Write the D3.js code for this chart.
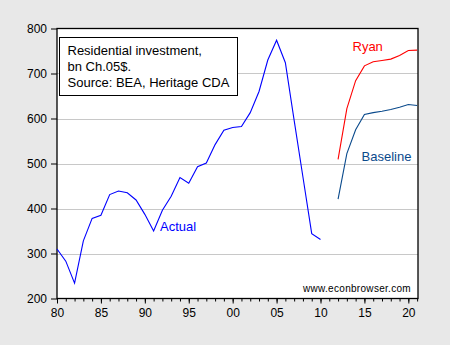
<!DOCTYPE html>
<html>
<head>
<meta charset="utf-8">
<script src="https://cdn.jsdelivr.net/npm/d3@7"></script>
<style>
  html, body { margin: 0; padding: 0; background: #e8e8e8; }
  svg { display: block; font-family: "Liberation Sans", Arial, sans-serif; }
</style>
</head>
<body>
<svg id="chart" width="450" height="345"></svg>
<script>
// Residential investment, billions of chained 2005 dollars
const actualYears = [1980, 1981, 1982, 1983, 1984, 1985, 1986, 1987, 1988, 1989,
                     1990, 1991, 1992, 1993, 1994, 1995, 1996, 1997, 1998, 1999,
                     2000, 2001, 2002, 2003, 2004, 2005, 2006, 2007, 2008, 2009, 2010];
const actualValues = [310, 283, 234, 328, 378, 385, 431, 439, 435, 419,
                      387, 350, 396, 427, 469, 456, 493, 501, 542, 574,
                      580, 582, 613, 660, 730, 774, 724, 596, 470, 344, 331];

const projYears = [2012, 2013, 2014, 2015, 2016, 2017, 2018, 2019, 2020, 2021];
const ryanValues = [509, 622, 684, 717, 726, 729, 732, 740, 751, 752];
const baselineValues = [421, 522, 575, 609, 613, 616, 620, 625, 631, 629];

const yTicks = [200, 300, 400, 500, 600, 700, 800];
const xMajorTicks = [1980, 1985, 1990, 1995, 2000, 2005, 2010, 2015, 2020];
const xTickLabels = ["80", "85", "90", "95", "00", "05", "10", "15", "20"];
const xMinorTicks = d3.range(1980, 2022);

const noteLines = ["Residential investment,", "bn Ch.05$.", "Source: BEA, Heritage CDA"];

const svg = d3.select("#chart");
const plotLeft = 57, plotRight = 418, plotTop = 28.5, plotBottom = 298.5;

const x = d3.scaleLinear().domain([1980, 2021.1]).range([plotLeft, plotRight]);
const y = d3.scaleLinear().domain([200, 800]).range([plotBottom, plotTop]);

// plot background
svg.append("rect")
  .attr("x", plotLeft).attr("y", plotTop)
  .attr("width", plotRight - plotLeft).attr("height", plotBottom - plotTop)
  .attr("fill", "#ffffff");

// horizontal grid lines
svg.append("g")
  .selectAll("line")
  .data(yTicks.filter(v => v > 200 && v < 800))
  .join("line")
  .attr("x1", plotLeft).attr("x2", plotRight)
  .attr("y1", d => Math.round(y(d)) + 0.5).attr("y2", d => Math.round(y(d)) + 0.5)
  .attr("stroke", "#c8c8c8").attr("stroke-width", 1);

// y axis
const yAxis = d3.axisLeft(y).tickValues(yTicks).tickSize(6).tickPadding(4);
const gy = svg.append("g").attr("transform", `translate(${plotLeft},0)`).call(yAxis);
gy.select(".domain").remove();
gy.selectAll(".tick line").attr("stroke", "#000");
gy.selectAll(".tick text").attr("font-size", 12).attr("fill", "#000")
  .attr("font-family", "Liberation Sans, Arial, sans-serif");

// x axis: minor yearly ticks, major ticks every five years
const xMinor = d3.axisBottom(x).tickValues(xMinorTicks).tickSize(3).tickFormat("");
const gxm = svg.append("g").attr("transform", `translate(0,${plotBottom})`).call(xMinor);
gxm.select(".domain").remove();
gxm.selectAll(".tick line").attr("stroke", "#000");

const xMajor = d3.axisBottom(x).tickValues(xMajorTicks).tickSize(5).tickPadding(5)
  .tickFormat((d, i) => xTickLabels[i]);
const gx = svg.append("g").attr("transform", `translate(0,${plotBottom})`).call(xMajor);
gx.select(".domain").remove();
gx.selectAll(".tick line").attr("stroke", "#000");
gx.selectAll(".tick text").attr("font-size", 12).attr("fill", "#000")
  .attr("font-family", "Liberation Sans, Arial, sans-serif");

// frame
svg.append("rect")
  .attr("x", plotLeft).attr("y", plotTop)
  .attr("width", plotRight - plotLeft).attr("height", plotBottom - plotTop)
  .attr("fill", "none").attr("stroke", "#000").attr("stroke-width", 1.3);

// series lines
const line = d3.line().x(d => x(d[0])).y(d => y(d[1]));
const series = [
  { years: actualYears, values: actualValues, color: "#0000ff" },
  { years: projYears, values: ryanValues, color: "#ff0000" },
  { years: projYears, values: baselineValues, color: "#0a4a8c" }
];
svg.append("g")
  .selectAll("path")
  .data(series)
  .join("path")
  .attr("d", s => line(s.years.map((yr, i) => [yr, s.values[i]])))
  .attr("fill", "none")
  .attr("stroke", s => s.color)
  .attr("stroke-width", 1.1);

// series labels
const labels = [
  { text: "Ryan", x: 352.5, y: 50.5, color: "#ff0000" },
  { text: "Baseline", x: 361.5, y: 161, color: "#0a4a8c" },
  { text: "Actual", x: 160, y: 230.5, color: "#0000ff" }
];
svg.append("g")
  .selectAll("text")
  .data(labels)
  .join("text")
  .attr("x", d => d.x).attr("y", d => d.y)
  .attr("fill", d => d.color)
  .attr("font-size", 13)
  .text(d => d.text);

// note box
svg.append("rect")
  .attr("x", 59.5).attr("y", 37.5)
  .attr("width", 178).attr("height", 58)
  .attr("fill", "#ffffff").attr("stroke", "#000").attr("stroke-width", 1);
svg.append("g")
  .selectAll("text")
  .data(noteLines)
  .join("text")
  .attr("x", 67.5)
  .attr("y", (d, i) => 55 + i * 16)
  .attr("font-size", 13)
  .attr("fill", "#000")
  .text(d => d);

// watermark
svg.append("text")
  .attr("x", 411).attr("y", 292)
  .attr("text-anchor", "end")
  .attr("font-size", 10)
  .attr("letter-spacing", 0.3)
  .attr("fill", "#000")
  .text("www.econbrowser.com");
</script>
</body>
</html>
